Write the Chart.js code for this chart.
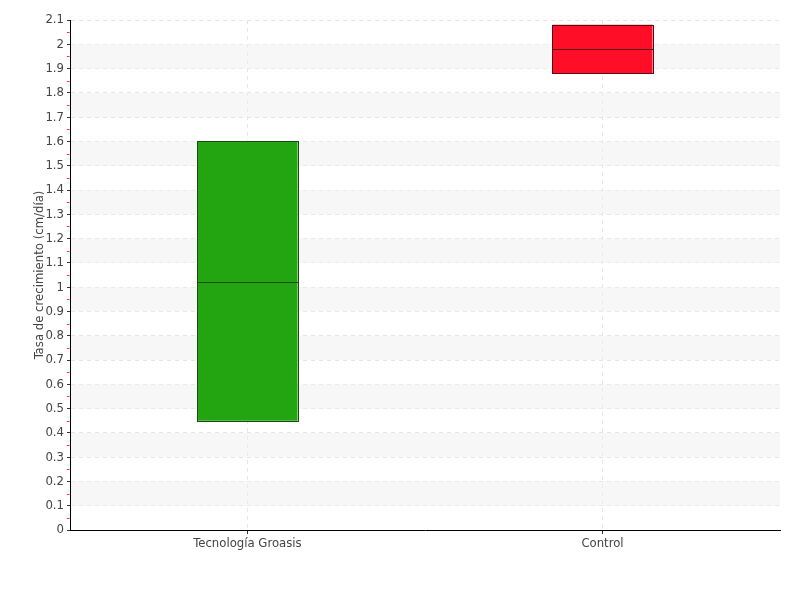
<!DOCTYPE html>
<html><head><meta charset="utf-8">
<script src="https://cdn.jsdelivr.net/npm/chart.js@4/dist/chart.umd.min.js"></script>
<style>html,body{margin:0;padding:0;background:#fff}#wrap{width:800px;height:600px}</style>
</head><body><div id="wrap"><canvas id="c" width="800" height="600"></canvas></div>
<script>
const categories = ['Tecnología Groasis', 'Control'];
const q1 = [0.45, 1.88];
const q3 = [1.60, 2.08];
const medians = [1.02, 1.98];
const fillColors = ['#22a510', '#ff0e28'];
const edgeColors = ['#1b4a12', '#5c0a12'];
const yTitle = 'Tasa de crecimiento (cm/día)';
const FONT = "'Liberation Sans Narrow', 'DejaVu Sans Condensed', 'Roboto', sans-serif";

const extras = {
  id: 'extras',
  beforeDatasetsDraw(chart) {
    const {ctx, chartArea: a, scales: {y}} = chart;
    ctx.save();
    ctx.fillStyle = 'rgba(240,240,240,0.5)';
    for (let k = 1; k < 21; k += 2) {
      const lo = k / 10, hi = (k + 1) / 10;
      const yt = y.getPixelForValue(hi), yb = y.getPixelForValue(lo);
      ctx.fillRect(a.left + 1, yt, a.right - a.left - 1, yb - yt);
    }
    ctx.restore();
  },
  afterDatasetsDraw(chart) {
    const {ctx, chartArea: a, scales: {y}} = chart;
    const meta = chart.getDatasetMeta(0);
    ctx.save();
    ctx.lineWidth = 1;
    meta.data.forEach((bar, i) => {
      const x0 = Math.round(bar.x - bar.width / 2) + 0.5;
      const x1 = Math.round(bar.x + bar.width / 2) + 0.5;
      const yt = Math.round(y.getPixelForValue(q3[i])) + 0.5;
      const yb = Math.round(y.getPixelForValue(q1[i])) + 0.5;
      const ym = Math.round(y.getPixelForValue(medians[i])) + 0.5;
      ctx.strokeStyle = edgeColors[i];
      ctx.strokeRect(x0, yt, x1 - x0, yb - yt);
      ctx.beginPath();
      ctx.moveTo(x0, ym);
      ctx.lineTo(x1, ym);
      ctx.stroke();
    });
    ctx.strokeStyle = '#ff2a2a';
    for (let k = 0; k < 21; k++) {
      const py = Math.round(y.getPixelForValue(k / 10 + 0.05)) + 0.5;
      ctx.beginPath();
      ctx.moveTo(a.left - 3, py);
      ctx.lineTo(a.left - 0.5, py);
      ctx.stroke();
    }
    ctx.restore();
  }
};

new Chart(document.getElementById('c'), {
  type: 'bar',
  data: {
    labels: categories,
    datasets: [{
      data: categories.map((c, i) => [q1[i], q3[i]]),
      backgroundColor: fillColors,
      borderWidth: 0,
      barPercentage: 0.282,
      categoryPercentage: 1
    }]
  },
  options: {
    responsive: false,
    animation: false,
    layout: {padding: {top: 20, right: 20, left: 0, bottom: 0}},
    plugins: {legend: {display: false}, tooltip: {enabled: false}},
    scales: {
      x: {
        offset: true,
        grid: {offset: false, color: '#e6e6e6', tickColor: '#333', tickLength: 4, tickBorderDash: []},
        border: {display: true, color: '#000', width: 1, dash: [4, 4]},
        ticks: {color: '#444', font: {family: FONT, size: 13}, padding: 2},
        afterFit(s) { s.height = 70; }
      },
      y: {
        min: 0, max: 2.1,
        grid: {color: '#e6e6e6', tickColor: '#333', tickLength: 3, tickBorderDash: []},
        border: {display: true, color: '#000', width: 1, dash: [4, 4]},
        ticks: {stepSize: 0.1, color: '#444', font: {family: FONT, size: 13}, padding: 3,
          callback: v => String(Number(v.toFixed(1)))},
        title: {display: true, text: yTitle, color: '#444', font: {family: FONT, size: 13}, padding: {top: 32, bottom: 0}},
        afterFit(s) { s.width = 70; }
      }
    }
  },
  plugins: [extras]
});
</script></body></html>
